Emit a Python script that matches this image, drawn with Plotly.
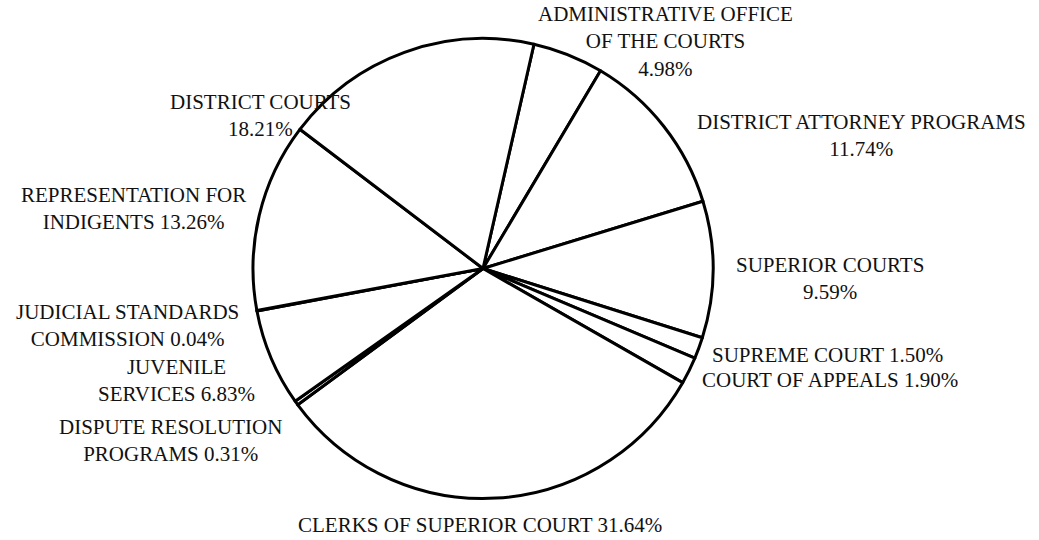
import plotly.graph_objects as go

# ---- data ----
categories = [
    "ADMINISTRATIVE OFFICE OF THE COURTS",
    "DISTRICT ATTORNEY PROGRAMS",
    "SUPERIOR COURTS",
    "SUPREME COURT",
    "COURT OF APPEALS",
    "CLERKS OF SUPERIOR COURT",
    "DISPUTE RESOLUTION PROGRAMS",
    "JUVENILE SERVICES",
    "JUDICIAL STANDARDS COMMISSION",
    "REPRESENTATION FOR INDIGENTS",
    "DISTRICT COURTS",
]
values = [4.98, 11.74, 9.59, 1.50, 1.90, 31.64, 0.31, 6.83, 0.04, 13.26, 18.21]

# ---- label layout: line-break templates and pixel positions (centre) ----
label_templates = {
    "ADMINISTRATIVE OFFICE OF THE COURTS": "ADMINISTRATIVE OFFICE<br>OF THE COURTS<br>{v}",
    "DISTRICT ATTORNEY PROGRAMS": "DISTRICT ATTORNEY PROGRAMS<br>{v}",
    "SUPERIOR COURTS": "SUPERIOR COURTS<br>{v}",
    "SUPREME COURT": "SUPREME COURT {v}",
    "COURT OF APPEALS": "COURT OF APPEALS {v}",
    "CLERKS OF SUPERIOR COURT": "CLERKS OF SUPERIOR COURT {v}",
    "DISPUTE RESOLUTION PROGRAMS": "DISPUTE RESOLUTION<br>PROGRAMS {v}",
    "JUVENILE SERVICES": "JUVENILE<br>SERVICES {v}",
    "JUDICIAL STANDARDS COMMISSION": "JUDICIAL STANDARDS<br>COMMISSION {v}",
    "REPRESENTATION FOR INDIGENTS": "REPRESENTATION FOR<br>INDIGENTS {v}",
    "DISTRICT COURTS": "DISTRICT COURTS<br>{v}",
}
label_pos = {
    "ADMINISTRATIVE OFFICE OF THE COURTS": (665, 42),
    "DISTRICT ATTORNEY PROGRAMS": (861, 136),
    "SUPERIOR COURTS": (830, 278),
    "SUPREME COURT": (827, 355),
    "COURT OF APPEALS": (830, 380),
    "CLERKS OF SUPERIOR COURT": (480, 525),
    "DISPUTE RESOLUTION PROGRAMS": (170, 440),
    "JUVENILE SERVICES": (176, 380),
    "JUDICIAL STANDARDS COMMISSION": (127, 325),
    "REPRESENTATION FOR INDIGENTS": (133, 208),
    "DISTRICT COURTS": (260, 116),
}

W, H = 1039, 540
cx, cy, r = 483, 268.5, 230

fig = go.Figure(go.Pie(
    labels=categories,
    values=values,
    sort=False,
    direction="clockwise",
    rotation=12.8,
    textinfo="none",
    hoverinfo="label+percent",
    marker=dict(colors=["white"] * len(values), line=dict(color="black", width=3)),
    domain=dict(x=[(cx - r) / W, (cx + r) / W], y=[1 - (cy + r) / H, 1 - (cy - r) / H]),
    showlegend=False,
))

annotations = []
for cat, val in zip(categories, values):
    px, py = label_pos[cat]
    annotations.append(dict(
        x=px / W, y=1 - py / H, xref="paper", yref="paper",
        xanchor="center", yanchor="middle", showarrow=False,
        text=label_templates[cat].format(v=f"{val:.2f}%"),
        font=dict(family="Liberation Serif", size=21, color="#111111"),
        align="center",
    ))

fig.update_layout(
    width=W, height=H,
    margin=dict(l=0, r=0, t=0, b=0),
    paper_bgcolor="white", plot_bgcolor="white",
    annotations=annotations,
)

fig.write_html(
    "out.html",
    config={"displayModeBar": False},
    post_script="document.body.style.margin='0';document.body.style.overflow='hidden';",
)
